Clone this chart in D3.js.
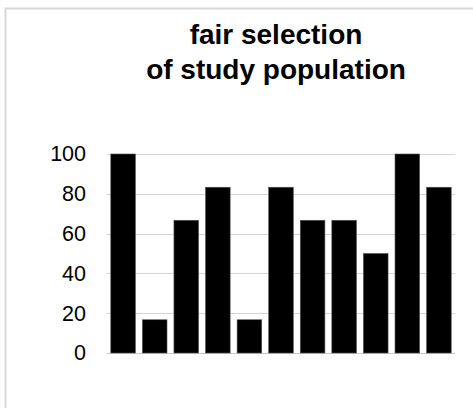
<!DOCTYPE html>
<html>
<head>
<meta charset="utf-8">
<script src="https://cdn.jsdelivr.net/npm/d3@7"></script>
<style>
  body { margin: 0; background: #fff; }
  svg { display: block; }
</style>
</head>
<body>
<div id="chart-area"></div>
<script>
const titleLines = ["fair selection", "of study population"];
const studies = ["1", "2", "3", "4", "5", "6", "7", "8", "9", "10", "11"];
const scores = [100, 16.7, 66.7, 83.3, 16.7, 83.3, 66.7, 66.7, 50, 100, 83.3];
const yTicks = [0, 20, 40, 60, 80, 100];

const width = 473, height = 408;
const margin = ({top: 154, right: 18, bottom: 55, left: 107});

const svg = d3.select("#chart-area").append("svg")
    .attr("width", width)
    .attr("height", height);

// chart frame (only top/left edges visible in the crop)
svg.append("rect")
    .attr("x", 5.5)
    .attr("y", 8.5)
    .attr("width", 800)
    .attr("height", 800)
    .attr("fill", "none")
    .attr("stroke", "#d9d9d9")
    .attr("stroke-width", 2);

const x = d3.scaleBand()
    .domain(studies)
    .range([margin.left, width - margin.right])
    .paddingInner(0.22)
    .paddingOuter(0.12);

const y = d3.scaleLinear()
    .domain([0, 100])
    .range([height - margin.bottom, margin.top]);

// gridlines
svg.append("g")
    .selectAll("line")
    .data(yTicks)
    .join("line")
        .attr("x1", margin.left)
        .attr("x2", width - margin.right)
        .attr("y1", d => Math.round(y(d)) + 0.5)
        .attr("y2", d => Math.round(y(d)) + 0.5)
        .attr("stroke", d => d === 0 ? "#c8c8c8" : "#d4d4d4")
        .attr("stroke-width", 1.2);

// y axis labels
const yAxis = g => g
    .attr("transform", `translate(${margin.left},0)`)
    .call(d3.axisLeft(y).tickValues(yTicks).tickSize(0).tickPadding(21))
    .call(g => g.select(".domain").remove())
    .call(g => g.selectAll("text")
        .attr("font-family", "'Liberation Sans', Arial, sans-serif")
        .attr("font-size", 21.5)
        .attr("fill", "#000"));

svg.append("g").call(yAxis);

// bars
svg.append("g")
    .selectAll("rect")
    .data(scores)
    .join("rect")
        .attr("x", (d, i) => x(studies[i]))
        .attr("y", d => y(d))
        .attr("width", x.bandwidth())
        .attr("height", d => y(0) - y(d))
        .attr("fill", "#000")
        .attr("stroke", "#555")
        .attr("stroke-width", 0.6);

// title
svg.append("g")
    .selectAll("text")
    .data(titleLines)
    .join("text")
        .attr("x", 276)
        .attr("y", (d, i) => 44 + i * 34.5)
        .attr("text-anchor", "middle")
        .attr("font-family", "'Liberation Sans', Arial, sans-serif")
        .attr("font-weight", "bold")
        .attr("font-size", 28)
        .attr("fill", "#000")
        .text(d => d);
</script>
</body>
</html>
